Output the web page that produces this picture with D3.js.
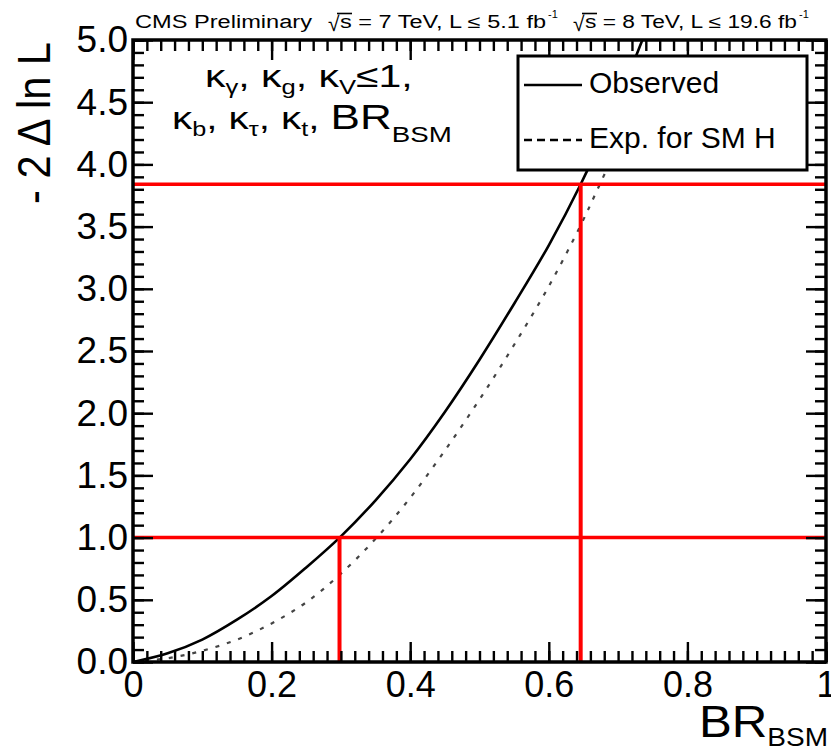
<!DOCTYPE html>
<html>
<head>
<meta charset="utf-8">
<script src="https://cdn.jsdelivr.net/npm/d3@7"></script>
<style>
	body { margin: 0; background: #fff; }
	text { font-family: Arial, "Liberation Sans", Helvetica, sans-serif; fill: #000; }
</style>
</head>
<body>
<svg id="chart"></svg>
<script>
// observed -2 Delta ln L scan vs BR_BSM
const brObserved  = [0, 0.05, 0.10, 0.15, 0.20, 0.25, 0.30, 0.35, 0.40, 0.45, 0.50, 0.55, 0.60, 0.646, 0.69, 0.735];
const nllObserved = [0, 0.07, 0.18, 0.34, 0.53, 0.76, 1.01, 1.30, 1.63, 2.01, 2.43, 2.88, 3.35, 3.84, 4.38, 5.00];
// expected for SM Higgs
const brExpected  = [0, 0.05, 0.10, 0.15, 0.20, 0.25, 0.30, 0.35, 0.40, 0.45, 0.50, 0.55, 0.60, 0.645, 0.672, 0.70];
const nllExpected = [0, 0.03, 0.09, 0.18, 0.31, 0.48, 0.71, 0.99, 1.32, 1.70, 2.11, 2.55, 3.02, 3.50, 3.82, 4.16];
// 68% / 95% CL thresholds and the BR limits where the observed scan crosses them
const clLevels = [1.0, 3.84];
const brLimits = [0.298, 0.646];

const xMajor = d3.range(0, 1.0001, 0.2);
const xMinor = d3.range(0, 1.0001, 0.02);
const yMajor = d3.range(0, 5.0001, 0.5);
const yMinor = d3.range(0, 5.0001, 0.1);
const legendLabels = ["Observed", "Exp. for SM H"];

const width = 831;
const height = 748;
const margin = ({top: 40, right: 5, bottom: 86, left: 133});

const svg = d3.select("#chart")
	.attr("width", width)
	.attr("height", height);

const x = d3.scaleLinear()
	.domain([0, 1])
	.range([margin.left, width - margin.right]);
const y = d3.scaleLinear()
	.domain([0, 5])
	.range([height - margin.bottom, margin.top]);

svg.append("defs").append("clipPath")
	.attr("id", "plot-clip")
	.append("rect")
	.attr("x", x(0))
	.attr("y", y(5))
	.attr("width", x(1) - x(0))
	.attr("height", y(0) - y(5));

const line = d3.line()
	.x(d => x(d[0]))
	.y(d => y(d[1]))
	.curve(d3.curveCatmullRom);

const curves = svg.append("g").attr("clip-path", "url(#plot-clip)");

curves.append("path")
	.datum(d3.zip(brExpected, nllExpected))
	.attr("fill", "none")
	.attr("stroke", "#444")
	.attr("stroke-width", 2.2)
	.attr("stroke-dasharray", "4,8")
	.attr("d", line);

curves.append("path")
	.datum(d3.zip(brObserved, nllObserved))
	.attr("fill", "none")
	.attr("stroke", "#000")
	.attr("stroke-width", 2.6)
	.attr("d", line);

// red CL lines
svg.selectAll(".cl-h")
	.data(clLevels)
	.enter()
	.append("line")
	.attr("x1", x(0))
	.attr("x2", x(1))
	.attr("y1", d => y(d))
	.attr("y2", d => y(d))
	.attr("stroke", "#ff0000")
	.attr("stroke-width", 3.5);

svg.selectAll(".cl-v")
	.data(d3.zip(brLimits, clLevels))
	.enter()
	.append("line")
	.attr("x1", d => x(d[0]))
	.attr("x2", d => x(d[0]))
	.attr("y1", y(0))
	.attr("y2", d => y(d[1]))
	.attr("stroke", "#ff0000")
	.attr("stroke-width", 4);

// axes with inward ticks on all four sides
const tickStyle = g => g
	.call(g => g.select(".domain").remove())
	.call(g => g.selectAll(".tick line").attr("stroke", "#000").attr("stroke-width", 2.4));

const xAxis = g => g
	.attr("transform", `translate(0,${y(0)})`)
	.call(d3.axisBottom(x).tickValues(xMajor).tickSize(-20).tickSizeOuter(0).tickPadding(9)
		.tickFormat(d => d === 0 || d === 1 ? d3.format("d")(d) : d3.format(".1f")(d)))
	.call(tickStyle)
	.call(g => g.selectAll("text").attr("font-size", 36).attr("font-family", "Arial, 'Liberation Sans', sans-serif"));
const xAxisMinor = g => g
	.attr("transform", `translate(0,${y(0)})`)
	.call(d3.axisBottom(x).tickValues(xMinor).tickSize(-11).tickFormat(""))
	.call(tickStyle);
const xTop = g => g
	.attr("transform", `translate(0,${y(5)})`)
	.call(d3.axisTop(x).tickValues(xMajor).tickSize(-20).tickFormat(""))
	.call(tickStyle);
const xTopMinor = g => g
	.attr("transform", `translate(0,${y(5)})`)
	.call(d3.axisTop(x).tickValues(xMinor).tickSize(-11).tickFormat(""))
	.call(tickStyle);

const yAxis = g => g
	.attr("transform", `translate(${x(0)},0)`)
	.call(d3.axisLeft(y).tickValues(yMajor).tickSize(-20).tickPadding(5).tickFormat(d3.format(".1f")))
	.call(tickStyle)
	.call(g => g.selectAll("text").attr("font-size", 37).attr("font-family", "Arial, 'Liberation Sans', sans-serif"));
const yAxisMinor = g => g
	.attr("transform", `translate(${x(0)},0)`)
	.call(d3.axisLeft(y).tickValues(yMinor).tickSize(-11).tickFormat(""))
	.call(tickStyle);
const yRight = g => g
	.attr("transform", `translate(${x(1)},0)`)
	.call(d3.axisRight(y).tickValues(yMajor).tickSize(-20).tickFormat(""))
	.call(tickStyle);
const yRightMinor = g => g
	.attr("transform", `translate(${x(1)},0)`)
	.call(d3.axisRight(y).tickValues(yMinor).tickSize(-11).tickFormat(""))
	.call(tickStyle);

svg.append("g").call(xAxisMinor);
svg.append("g").call(xAxis);
svg.append("g").call(xTopMinor);
svg.append("g").call(xTop);
svg.append("g").call(yAxisMinor);
svg.append("g").call(yAxis);
svg.append("g").call(yRightMinor);
svg.append("g").call(yRight);

svg.append("rect")
	.attr("x", x(0))
	.attr("y", y(5))
	.attr("width", x(1) - x(0))
	.attr("height", y(0) - y(5))
	.attr("fill", "none")
	.attr("stroke", "#000")
	.attr("stroke-width", 3.5);

// axis titles
const xTitle = svg.append("text")
	.attr("transform", "translate(828,737) scale(1.12,1)")
	.attr("text-anchor", "end");
xTitle.append("tspan").attr("font-size", 44).text("BR");
xTitle.append("tspan").attr("font-size", 25).attr("dy", 9).text("BSM");

svg.append("text")
	.attr("transform", "translate(50,42) rotate(-90)")
	.attr("text-anchor", "end")
	.attr("font-size", 46)
	.attr("textLength", 162)
	.attr("lengthAdjust", "spacingAndGlyphs")
	.text("- 2 \u0394 ln L");

// header
svg.append("text")
	.attr("x", 135).attr("y", 28)
	.attr("font-size", 18)
	.attr("textLength", 177)
	.attr("lengthAdjust", "spacingAndGlyphs")
	.text("CMS Preliminary");

const energies = [
	{x: 328, label: "s = 7 TeV, L \u2264 5.1 fb", len: 206},
	{x: 573, label: "s = 8 TeV, L \u2264 19.6 fb", len: 212}
];
energies.forEach(e => {
	svg.append("text")
		.attr("x", e.x).attr("y", 31)
		.attr("font-size", 21)
		.text("\u221A");
	svg.append("line")
		.attr("x1", e.x + 9).attr("x2", e.x + 24)
		.attr("y1", 13.5).attr("y2", 13.5)
		.attr("stroke", "#000").attr("stroke-width", 1.6);
	svg.append("text")
		.attr("x", e.x + 12).attr("y", 28)
		.attr("font-size", 18)
		.attr("textLength", e.len)
		.attr("lengthAdjust", "spacingAndGlyphs")
		.text(e.label);
	svg.append("text")
		.attr("x", e.x + 14 + e.len).attr("y", 18)
		.attr("font-size", 11)
		.text("-1");
});

// model annotation (stretched horizontally like the original font)
const note1 = svg.append("text")
	.attr("transform", "translate(205,87) scale(1.28,1)")
	.attr("font-size", 32);
note1.append("tspan").text("\u03BA");
note1.append("tspan").attr("font-size", 20).attr("dy", 7).text("\u03B3");
note1.append("tspan").attr("dy", -7).text(", \u03BA");
note1.append("tspan").attr("font-size", 20).attr("dy", 7).text("g");
note1.append("tspan").attr("dy", -7).text(", \u03BA");
note1.append("tspan").attr("font-size", 20).attr("dy", 7).text("V");
note1.append("tspan").attr("dy", -7).text("\u22641,");

const note2 = svg.append("text")
	.attr("transform", "translate(172,129) scale(1.26,1)")
	.attr("font-size", 32);
note2.append("tspan").text("\u03BA");
note2.append("tspan").attr("font-size", 20).attr("dy", 7).text("b");
note2.append("tspan").attr("dy", -7).text(", \u03BA");
note2.append("tspan").attr("font-size", 20).attr("dy", 7).text("\u03C4");
note2.append("tspan").attr("dy", -7).text(", \u03BA");
note2.append("tspan").attr("font-size", 20).attr("dy", 7).text("t");
note2.append("tspan").attr("dy", -7).text(", ");
note2.append("tspan").attr("font-size", 35).text("BR");
note2.append("tspan").attr("font-size", 22).attr("dy", 13).text("BSM");

// legend
const legend = svg.append("g");
legend.append("rect")
	.attr("x", 518).attr("y", 56)
	.attr("width", 289).attr("height", 114)
	.attr("fill", "#fff")
	.attr("stroke", "#000")
	.attr("stroke-width", 3);

legend.selectAll(".entry")
	.data(legendLabels)
	.enter()
	.append("g")
	.attr("transform", (d, i) => `translate(0,${85 + i * 55})`)
	.each(function(d, i) {
		const g = d3.select(this);
		g.append("line")
			.attr("x1", 524).attr("x2", 582)
			.attr("stroke", "#000")
			.attr("stroke-width", 2.4)
			.attr("stroke-dasharray", i === 0 ? null : "8,5");
		g.append("text")
			.attr("x", 589).attr("y", 8)
			.attr("font-size", 30)
			.text(d);
	});
</script>
</body>
</html>
